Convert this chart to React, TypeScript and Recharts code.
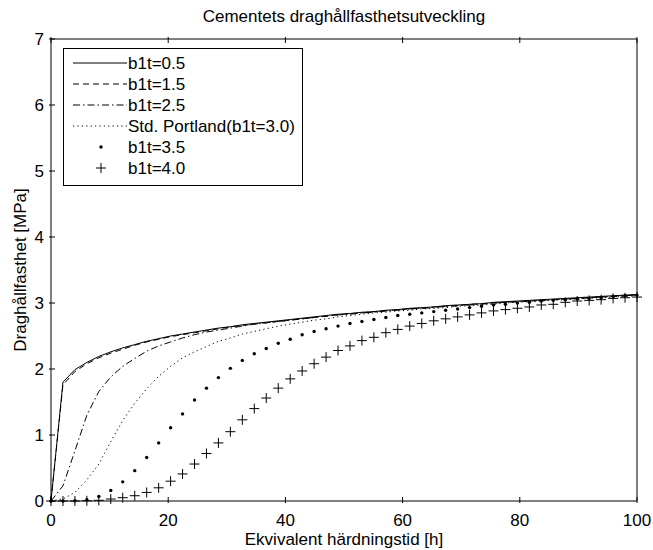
import { LineChart, Line, XAxis, YAxis, Legend } from 'recharts';

// tid [h], 50 punkter 0..100
const hours = [
  0, 2.04, 4.08, 6.12, 8.16, 10.2, 12.24, 14.29, 16.33, 18.37, 20.41, 22.45, 24.49, 26.53, 28.57,
  30.61, 32.65, 34.69, 36.73, 38.78, 40.82, 42.86, 44.9, 46.94, 48.98, 51.02, 53.06, 55.1, 57.14,
  59.18, 61.22, 63.27, 65.31, 67.35, 69.39, 71.43, 73.47, 75.51, 77.55, 79.59, 81.63, 83.67, 85.71,
  87.76, 89.8, 91.84, 93.88, 95.92, 97.96, 100,
];

const b05 = [
  0, 1.8, 1.99, 2.1, 2.19, 2.26, 2.32, 2.37, 2.42, 2.46, 2.5, 2.53, 2.56, 2.59, 2.62, 2.64, 2.67,
  2.69, 2.71, 2.73, 2.75, 2.77, 2.79, 2.81, 2.83, 2.84, 2.86, 2.87, 2.89, 2.9, 2.92, 2.93, 2.94,
  2.96, 2.97, 2.98, 2.99, 3.01, 3.02, 3.03, 3.04, 3.05, 3.06, 3.07, 3.08, 3.09, 3.1, 3.11, 3.12, 3.13,
];
const b15 = [
  0, 1.76, 1.96, 2.08, 2.17, 2.24, 2.3, 2.36, 2.41, 2.45, 2.49, 2.52, 2.55, 2.58, 2.61, 2.64, 2.66,
  2.68, 2.7, 2.72, 2.74, 2.76, 2.78, 2.8, 2.82, 2.84, 2.85, 2.87, 2.88, 2.9, 2.91, 2.92, 2.94, 2.95,
  2.96, 2.98, 2.99, 3.0, 3.01, 3.02, 3.03, 3.04, 3.05, 3.06, 3.07, 3.08, 3.09, 3.1, 3.11, 3.12,
];
const b25 = [
  0, 0.23, 0.76, 1.3, 1.66, 1.88, 2.04, 2.16, 2.27, 2.35, 2.41, 2.47, 2.52, 2.56, 2.59, 2.62, 2.65,
  2.68, 2.7, 2.72, 2.74, 2.76, 2.78, 2.8, 2.82, 2.83, 2.85, 2.86, 2.88, 2.89, 2.91, 2.92, 2.93, 2.95,
  2.96, 2.97, 2.98, 3.0, 3.01, 3.02, 3.03, 3.04, 3.05, 3.06, 3.07, 3.08, 3.09, 3.1, 3.11, 3.12,
];
const portland = [
  0, 0.03, 0.13, 0.32, 0.56, 0.9, 1.22, 1.48, 1.7, 1.89, 2.04, 2.17, 2.26, 2.34, 2.42, 2.47, 2.53,
  2.57, 2.61, 2.65, 2.68, 2.71, 2.74, 2.76, 2.79, 2.81, 2.83, 2.85, 2.86, 2.88, 2.89, 2.91, 2.92,
  2.93, 2.95, 2.96, 2.97, 2.98, 3.0, 3.01, 3.02, 3.03, 3.04, 3.05, 3.06, 3.07, 3.08, 3.09, 3.1, 3.11,
];
const b35 = [
  0, 0, 0.003, 0.02, 0.07, 0.16, 0.29, 0.46, 0.66, 0.88, 1.11, 1.32, 1.53, 1.71, 1.87, 2.01, 2.13,
  2.23, 2.31, 2.39, 2.45, 2.52, 2.57, 2.61, 2.65, 2.69, 2.72, 2.75, 2.78, 2.81, 2.83, 2.85, 2.87,
  2.89, 2.91, 2.93, 2.95, 2.97, 2.98, 3.0, 3.01, 3.03, 3.04, 3.05, 3.06, 3.07, 3.08, 3.1, 3.11, 3.12,
];
const b40 = [
  0, 0, 0, 0.003, 0.01, 0.03, 0.05, 0.08, 0.13, 0.2, 0.3, 0.41, 0.56, 0.72, 0.88, 1.05, 1.23, 1.4,
  1.56, 1.71, 1.85, 1.97, 2.08, 2.18, 2.28, 2.35, 2.43, 2.48, 2.55, 2.6, 2.65, 2.69, 2.73, 2.76,
  2.79, 2.82, 2.85, 2.88, 2.9, 2.92, 2.94, 2.97, 2.98, 3.01, 3.03, 3.04, 3.05, 3.07, 3.08, 3.09,
];

const xTicks = [0, 20, 40, 60, 80, 100];
const yTicks = [0, 1, 2, 3, 4, 5, 6, 7];

const data = hours.map((h, i) => ({
  h,
  b05: b05[i],
  b15: b15[i],
  b25: b25[i],
  portland: portland[i],
  b35: b35[i],
  b40: b40[i],
}));

const FONT = '"Liberation Sans", Arial, Helvetica, sans-serif';
const FS = 17;
const TICK = 6;

const legendItems = [
  { name: 'b1t=0.5', kind: 'line', dash: undefined },
  { name: 'b1t=1.5', kind: 'line', dash: '6 4' },
  { name: 'b1t=2.5', kind: 'line', dash: '7 3 1.5 3' },
  { name: 'Std. Portland(b1t=3.0)', kind: 'line', dash: '1.2 3.2' },
  { name: 'b1t=3.5', kind: 'dot' },
  { name: 'b1t=4.0', kind: 'plus' },
];

const BottomTick = ({ x, y, payload }: any) => (
  <g>
    <line x1={x} y1={y} x2={x} y2={y - TICK} stroke="#000" />
    <text x={x} y={y + 23} textAnchor="middle" fontSize={FS} fontFamily={FONT} fill="#000">
      {payload.value}
    </text>
  </g>
);
const TopTick = ({ x, y }: any) => <line x1={x} y1={y} x2={x} y2={y + TICK} stroke="#000" />;
const LeftTick = ({ x, y, payload }: any) => (
  <g>
    <line x1={x} y1={y} x2={x + TICK} y2={y} stroke="#000" />
    <text x={x - 5} y={y + 6} textAnchor="end" fontSize={FS} fontFamily={FONT} fill="#000">
      {payload.value}
    </text>
  </g>
);
const RightTick = ({ x, y }: any) => <line x1={x} y1={y} x2={x - TICK} y2={y} stroke="#000" />;

const DotMark = (p: any) => <circle key={`d${p.index}`} cx={p.cx} cy={p.cy} r={1.7} fill="#000" />;
const PlusMark = (p: any) => (
  <path
    key={`p${p.index}`}
    d={`M${p.cx - 5},${p.cy}h10M${p.cx},${p.cy - 5}v10`}
    stroke="#000"
    strokeWidth={1}
    fill="none"
  />
);

const LW = 240;
const LH = 138;
const LegendBox = () => (
  <svg width={LW} height={LH} style={{ display: 'block' }}>
    <rect x={0.5} y={0.5} width={LW - 1} height={LH - 1} fill="#fff" stroke="#000" />
    {legendItems.map((it, i) => {
      const y = 15 + i * 21;
      return (
        <g key={it.name}>
          {it.kind === 'line' && (
            <line x1={10} y1={y} x2={64} y2={y} stroke="#000" strokeDasharray={it.dash} />
          )}
          {it.kind === 'dot' && <circle cx={38} cy={y} r={1.7} fill="#000" />}
          {it.kind === 'plus' && (
            <path d={`M${33},${y}h10M${38},${y - 5}v10`} stroke="#000" fill="none" />
          )}
          <text x={65} y={y + 6} fontSize={FS} fontFamily={FONT} fill="#000">
            {it.name}
          </text>
        </g>
      );
    })}
  </svg>
);

export default function App() {
  return (
    <div style={{ position: 'absolute', left: 0, top: 0, background: '#fff' }}>
      <LineChart
        width={653}
        height={550}
        data={data}
        margin={{ top: 38, right: 15, bottom: 48, left: 50 }}
      >
        <XAxis
          dataKey="h"
          type="number"
          domain={[0, 100]}
          ticks={xTicks}
          height={1}
          tickSize={0}
          tickLine={false}
          axisLine={{ stroke: '#000' }}
          tick={<BottomTick />}
          label={(props: any) => {
            const vb = props.viewBox;
            return (
              <text
                x={vb.x + vb.width / 2}
                y={vb.y + 44}
                textAnchor="middle"
                fontSize={FS}
                fontFamily={FONT}
                fill="#000"
              >
                Ekvivalent härdningstid [h]
              </text>
            );
          }}
        />
        <XAxis
          xAxisId="top"
          orientation="top"
          dataKey="h"
          type="number"
          domain={[0, 100]}
          ticks={xTicks}
          height={1}
          tickSize={0}
          tickLine={false}
          axisLine={{ stroke: '#000' }}
          tick={<TopTick />}
          label={(props: any) => {
            const vb = props.viewBox;
            return (
              <text
                x={vb.x + vb.width / 2}
                y={22}
                textAnchor="middle"
                fontSize={FS}
                fontFamily={FONT}
                fill="#000"
              >
                Cementets draghållfasthetsutveckling
              </text>
            );
          }}
        />
        <YAxis
          type="number"
          domain={[0, 7]}
          ticks={yTicks}
          width={1}
          tickSize={0}
          tickLine={false}
          axisLine={{ stroke: '#000' }}
          tick={<LeftTick />}
          label={(props: any) => {
            const vb = props.viewBox;
            const cy = vb.y + vb.height / 2;
            return (
              <text
                x={26}
                y={cy}
                transform={`rotate(-90, 26, ${cy})`}
                textAnchor="middle"
                fontSize={FS}
                fontFamily={FONT}
                fill="#000"
              >
                Draghållfasthet [MPa]
              </text>
            );
          }}
        />
        <YAxis
          yAxisId="right"
          orientation="right"
          type="number"
          domain={[0, 7]}
          ticks={yTicks}
          width={1}
          tickSize={0}
          tickLine={false}
          axisLine={{ stroke: '#000' }}
          tick={<RightTick />}
        />
        <Legend
          layout="vertical"
          align="center"
          verticalAlign="middle"
          wrapperStyle={{ left: 63, top: 48, width: LW, height: LH }}
          content={() => <LegendBox />}
        />
        <Line dataKey="b05" name="b1t=0.5" stroke="#000" strokeWidth={1} dot={false} isAnimationActive={false} />
        <Line dataKey="b15" name="b1t=1.5" stroke="#000" strokeWidth={1} strokeDasharray="6 4" dot={false} isAnimationActive={false} />
        <Line dataKey="b25" name="b1t=2.5" stroke="#000" strokeWidth={1} strokeDasharray="7 3 1.5 3" dot={false} isAnimationActive={false} />
        <Line dataKey="portland" name="Std. Portland(b1t=3.0)" stroke="#000" strokeWidth={1} strokeDasharray="1.2 3.2" dot={false} isAnimationActive={false} />
        <Line dataKey="b35" name="b1t=3.5" stroke="none" dot={DotMark} activeDot={false} isAnimationActive={false} />
        <Line dataKey="b40" name="b1t=4.0" stroke="none" dot={PlusMark} activeDot={false} isAnimationActive={false} />
      </LineChart>
    </div>
  );
}
